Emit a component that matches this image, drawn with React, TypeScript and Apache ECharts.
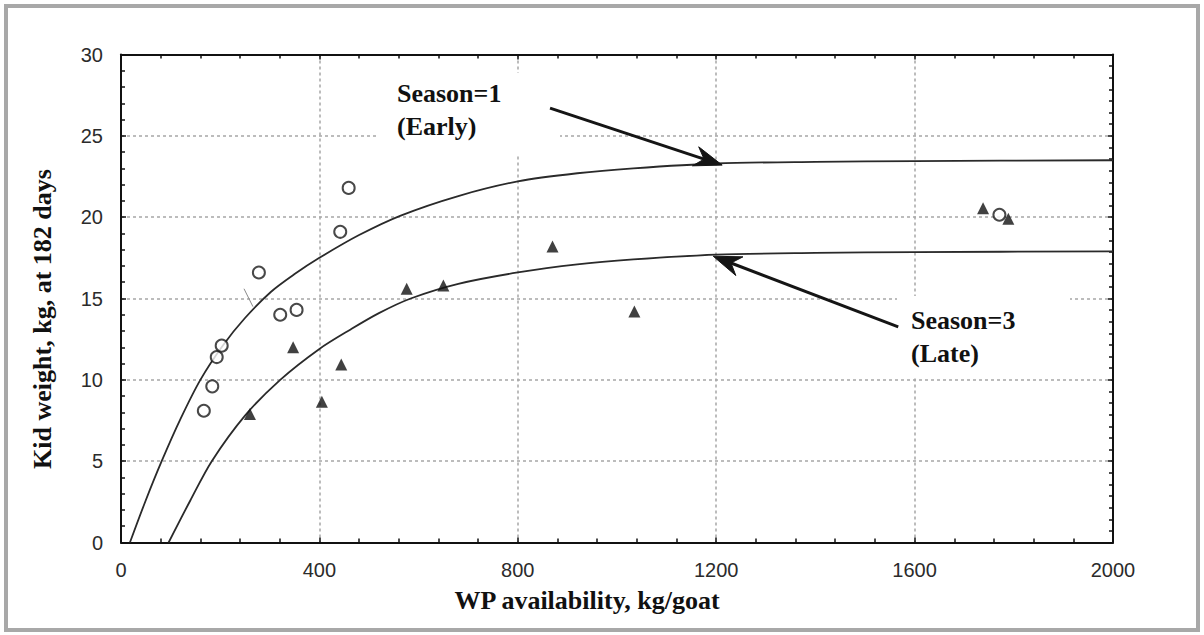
import React, { useEffect, useRef } from "react";
import * as echarts from "echarts";

// ---- data ----
const xTickValues = [0, 400, 800, 1200, 1600, 2000];
const yTickValues = [0, 5, 10, 15, 20, 25, 30];

// Season=1 (Early) observations: open circles
const earlyPoints: [number, number][] = [
  [167, 8.1], [184, 9.6], [193, 11.4], [203, 12.1], [278, 16.6],
  [321, 14.0], [354, 14.3], [442, 19.1], [459, 21.8], [1771, 20.15],
];
// Season=3 (Late) observations: filled triangles
const latePoints: [number, number][] = [
  [260, 7.9], [347, 12.0], [405, 8.65], [444, 10.95], [576, 15.6],
  [650, 15.8], [870, 18.2], [1035, 14.2], [1738, 20.55], [1789, 19.9],
];
// fitted curves, points
const earlyCurve: [number, number][] = [
  [18, 0], [50, 2.6], [82, 5], [120, 7.6], [160, 10], [205, 12.1], [250, 13.8],
  [302, 15.4], [350, 16.5], [400, 17.5], [480, 18.9], [564, 20.1], [680, 21.3],
  [800, 22.2], [920, 22.7], [1033, 23.0], [1200, 23.3], [1400, 23.4], [1600, 23.45], [2000, 23.5],
];
const lateCurve: [number, number][] = [
  [96, 0], [140, 2.6], [183, 5], [250, 7.8], [321, 10], [400, 11.9], [463, 13.1],
  [520, 14.1], [584, 15.0], [680, 15.9], [800, 16.6], [920, 17.1], [1033, 17.4],
  [1200, 17.7], [1400, 17.8], [1600, 17.85], [2000, 17.9],
];

const xAxisTitle = "WP availability, kg/goat";
const yAxisTitle = "Kid weight, kg, at 182 days";
const earlyLabel = ["Season=1", "(Early)"];
const lateLabel = ["Season=3", "(Late)"];
// annotation arrows in data coordinates [tail, tip]
const earlyArrow: [number, number][] = [[865, 26.7], [1212, 23.2]];
const lateArrow: [number, number][] = [[1567, 13.26], [1194, 17.6]];
// scan artefact stroke (data coords)
const strayMark: [number, number][] = [[248, 15.6], [266, 14.5]];

const AXIS = "#111111";
const GRID = "#a6a6a6";
const SERIF = '"Liberation Serif", "Times New Roman", serif';

function axisCommon(showLabel: boolean) {
  return {
    axisLine: { show: true, onZero: false, lineStyle: { color: AXIS, width: 2 } },
    axisTick: { show: true, inside: true, length: 5, lineStyle: { color: AXIS, width: 1.5 } },
    axisLabel: {
      show: showLabel,
      fontSize: 20,
      color: "#2b2b2b",
      fontFamily: '"Liberation Sans", Arial, sans-serif',
      formatter: (v: number) => String(v),
    },
  };
}

export default function App() {
  const ref = useRef<HTMLDivElement>(null);

  useEffect(() => {
    if (!ref.current) return;
    const chart = echarts.init(ref.current, null, { renderer: "svg" });
    const xMin = xTickValues[0];
    const xMax = xTickValues[xTickValues.length - 1];
    const yMin = yTickValues[0];
    const yMax = yTickValues[yTickValues.length - 1];
    const xInt = xTickValues[1] - xTickValues[0];
    const yInt = yTickValues[1] - yTickValues[0];

    const option: any = {
      animation: false,
      backgroundColor: "#ffffff",
      grid: { left: 121, top: 54.5, width: 992, height: 488 },
      xAxis: [
        {
          type: "value", min: xMin, max: xMax, interval: xInt, position: "bottom",
          ...axisCommon(true),
          axisLabel: { ...axisCommon(true).axisLabel, margin: 17 },
          minorTick: { show: true, splitNumber: 5, length: 4, lineStyle: { color: AXIS, width: 1.5 } },
          splitLine: { show: true, lineStyle: { color: GRID, type: [3, 3], width: 1.5 } },
        },
        {
          type: "value", min: xMin, max: xMax, interval: xInt, position: "top",
          ...axisCommon(false),
          minorTick: { show: true, splitNumber: 5, length: 4, lineStyle: { color: AXIS, width: 1.5 } },
          splitLine: { show: false },
        },
      ],
      yAxis: [
        {
          type: "value", min: yMin, max: yMax, interval: yInt, position: "left",
          ...axisCommon(true),
          axisLabel: { ...axisCommon(true).axisLabel, margin: 18 },
          minorTick: { show: true, splitNumber: 5, length: 4, lineStyle: { color: AXIS, width: 1.5 } },
          splitLine: { show: true, lineStyle: { color: GRID, type: [3, 3], width: 1.5 } },
        },
        {
          type: "value", min: yMin, max: yMax, interval: yInt, position: "right",
          ...axisCommon(false),
          minorTick: { show: true, splitNumber: 7, length: 4, lineStyle: { color: AXIS, width: 1.5 } },
          splitLine: { show: false },
        },
      ],
      series: [
        {
          name: "Season=1 fit", type: "line", data: earlyCurve, smooth: 0.3,
          showSymbol: false, lineStyle: { color: "#2a2a2a", width: 1.8 }, z: 2,
        },
        {
          name: "Season=3 fit", type: "line", data: lateCurve, smooth: 0.3,
          showSymbol: false, lineStyle: { color: "#2a2a2a", width: 1.8 }, z: 2,
        },
        {
          name: "Season=1 (Early)", type: "scatter", data: earlyPoints, symbol: "emptyCircle",
          symbolSize: 12, itemStyle: { color: "#1a1a1a", borderWidth: 2 }, z: 3,
        },
        {
          name: "Season=3 (Late)", type: "scatter", data: latePoints, symbol: "triangle",
          symbolSize: 12, itemStyle: { color: "#111111" }, z: 4,
        },
      ],
    };
    chart.setOption(option);

    const px = (p: [number, number]) => chart.convertToPixel({ gridIndex: 0 }, p) as number[];

    const arrow = (pts: [number, number][]) => {
      const a = px(pts[0]);
      const b = px(pts[1]);
      const dx = b[0] - a[0];
      const dy = b[1] - a[1];
      const len = Math.hypot(dx, dy);
      const ux = dx / len, uy = dy / len;
      const nx = -uy, ny = ux;
      const headLen = 28, half = 10, notch = 19;
      const bx = b[0] - headLen * ux, by = b[1] - headLen * uy;
      const cx = b[0] - notch * ux, cy = b[1] - notch * uy;
      return [
        {
          type: "polyline", z: 20,
          shape: { points: [[a[0], a[1]], [cx, cy]] },
          style: { stroke: "#151515", lineWidth: 3, fill: null },
        },
        {
          type: "polygon", z: 20,
          shape: { points: [[b[0], b[1]], [bx + half * nx, by + half * ny], [cx, cy], [bx - half * nx, by - half * ny]] },
          style: { fill: "#151515", stroke: "#151515", lineWidth: 1 },
        },
      ];
    };

    const label = (lines: string[], x: number, y: number) =>
      lines.map((t, i) => ({
        type: "text", z: 22,
        style: {
          text: t, x, y: y + i * 33, fill: "#111111",
          font: `bold 26px ${SERIF}`, textAlign: "left", textVerticalAlign: "middle",
        },
      }));

    const s1 = px(strayMark[0]);
    const s2 = px(strayMark[1]);

    chart.setOption({
      graphic: [
        {
          type: "rect", z: 1,
          shape: { x: 6, y: 6, width: 1192, height: 624 },
          style: { fill: "none", stroke: "#a8a8a8", lineWidth: 4 },
        },
        { type: "rect", z: 15, shape: { x: 377, y: 73, width: 183, height: 82 }, style: { fill: "#ffffff" } },
        { type: "rect", z: 15, shape: { x: 897, y: 296, width: 173, height: 82 }, style: { fill: "#ffffff" } },
        {
          type: "line", z: 5,
          shape: { x1: s1[0], y1: s1[1], x2: s2[0], y2: s2[1] },
          style: { stroke: "#8a8a8a", lineWidth: 1 },
        },
        ...arrow(earlyArrow),
        ...arrow(lateArrow),
        ...label(earlyLabel, 397, 93),
        ...label(lateLabel, 911, 320),
        {
          type: "text", z: 22, x: 42, y: 319, rotation: Math.PI / 2,
          style: {
            text: yAxisTitle, x: 0, y: 0, fill: "#111111",
            font: `bold 26px ${SERIF}`, textAlign: "center", textVerticalAlign: "middle",
          },
        },
        {
          type: "text", z: 22,
          style: {
            text: xAxisTitle, x: 587, y: 600, fill: "#111111",
            font: `bold 26px ${SERIF}`, textAlign: "center", textVerticalAlign: "middle",
          },
        },
      ],
    });

    return () => chart.dispose();
  }, []);

  return (
    <div
      ref={ref}
      style={{ position: "absolute", left: 0, top: 0, width: 1204, height: 635 }}
    />
  );
}
